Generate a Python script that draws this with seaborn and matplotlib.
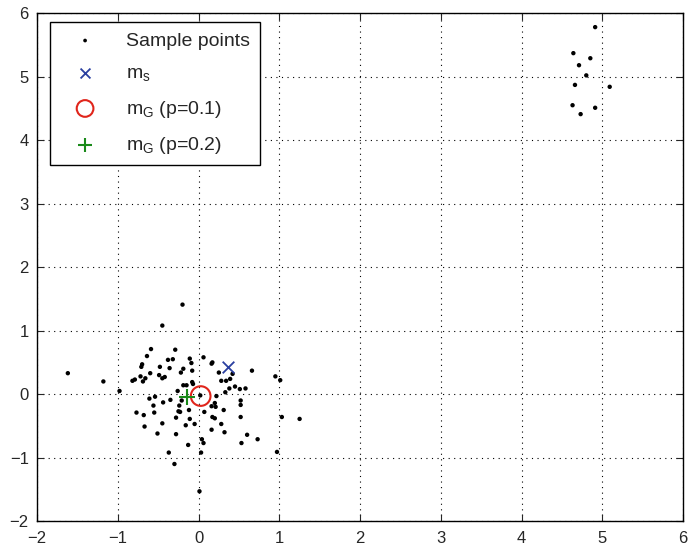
import numpy as np
import pandas as pd
import matplotlib
matplotlib.use("Agg")
import matplotlib.pyplot as plt
import seaborn as sns

# sample points
cluster_x = [-0.20, -0.45, -0.59, -0.29, -0.64, -0.38, -0.32, 0.06, -0.11, -0.09,
             0.16, 0.17, -0.70, -0.71, -0.48, -0.36, -0.19, -0.08, 0.25, 0.42,
             0.66, -0.60, -0.49, -0.42, -0.45, -0.72, -0.66, -0.79, -0.82, -0.69,
             -1.62, -1.18, -0.22, -0.08, -0.07, -0.19, -0.15, 0.28, 0.34, 0.39,
             0.95, 1.01, 0.38, 0.45, 0.51, 0.58, -0.98, -0.26, 0.33, 0.02,
             0.22, -0.54, -0.61, -0.35, -0.21, 0.20, -0.44, 0.52, 0.52, -0.56,
             -0.24, 0.16, 0.21, -0.12, 0.31, -0.25, -0.23, -0.77, -0.55, 0.07,
             -0.68, -0.28, 0.17, 0.20, 0.52, 1.03, 1.25, -0.11, -0.45, -0.16,
             -0.05, 0.28, -0.67, 0.16, 0.32, -0.51, -0.28, 0.60, 0.73, 0.04,
             0.06, 0.53, -0.13, -0.37, 0.03, 0.97, -0.30, 0.01]
cluster_y = [1.41, 1.08, 0.71, 0.70, 0.60, 0.54, 0.55, 0.58, 0.56, 0.49,
             0.48, 0.50, 0.47, 0.43, 0.43, 0.41, 0.40, 0.37, 0.34, 0.32,
             0.37, 0.33, 0.30, 0.27, 0.25, 0.28, 0.25, 0.23, 0.21, 0.20,
             0.33, 0.20, 0.34, 0.19, 0.16, 0.14, 0.14, 0.21, 0.21, 0.24,
             0.28, 0.22, 0.09, 0.12, 0.08, 0.09, 0.05, 0.05, 0.03, -0.02,
             -0.03, -0.04, -0.07, -0.09, -0.10, -0.14, -0.13, -0.10, -0.17, -0.18,
             -0.18, -0.19, -0.20, -0.25, -0.25, -0.27, -0.28, -0.29, -0.29, -0.28,
             -0.33, -0.37, -0.36, -0.38, -0.36, -0.36, -0.39, -0.39, -0.46, -0.49,
             -0.47, -0.47, -0.51, -0.56, -0.60, -0.62, -0.63, -0.64, -0.71, -0.71,
             -0.77, -0.77, -0.80, -0.92, -0.92, -0.91, -1.10, -1.53]
outlier_x = [4.91, 4.64, 4.85, 4.71, 4.80, 4.66, 5.09, 4.63, 4.91, 4.73]
outlier_y = [5.78, 5.37, 5.29, 5.18, 5.02, 4.87, 4.84, 4.55, 4.51, 4.41]

# estimates
ms = (0.36, 0.43)
mg_01 = (0.025, -0.03)
mg_02 = (-0.14, -0.04)

df = pd.DataFrame({"x": cluster_x + outlier_x, "y": cluster_y + outlier_y})

sns.set_style("ticks")
plt.rcParams["font.family"] = ["Liberation Sans", "DejaVu Sans"]
plt.rcParams["mathtext.default"] = "regular"
plt.rcParams["xtick.direction"] = "in"
plt.rcParams["ytick.direction"] = "in"

fig = plt.figure(figsize=(6.88, 5.48), dpi=100)
ax = fig.add_axes([0.054, 0.049, 0.939, 0.927])

sns.scatterplot(data=df, x="x", y="y", ax=ax, color="black", s=10,
                edgecolor="none", label="Sample points", zorder=3)
sns.scatterplot(x=[ms[0]], y=[ms[1]], ax=ax, marker="x", color="#2a3fa0",
                s=70, linewidth=1.3, label="$m_s$", zorder=4)
sns.scatterplot(x=[mg_01[0]], y=[mg_01[1]], ax=ax, marker="o", facecolor="none",
                edgecolor="#e0251b", s=200, linewidth=1.5,
                label="$m_G$ (p=0.1)", zorder=4)
sns.scatterplot(x=[mg_02[0]], y=[mg_02[1]], ax=ax, marker="+", color="#1a8a1a",
                s=140, linewidth=1.5, label="$m_G$ (p=0.2)", zorder=4)

ax.set_xlim(-2, 6)
ax.set_ylim(-2, 6)
ax.set_xticks(range(-2, 7))
ax.set_yticks(range(-2, 7))
ax.set_xlabel("")
ax.set_ylabel("")
ax.grid(True, linestyle=(0, (1, 4)), color="black", linewidth=0.8)
ax.tick_params(top=True, right=True, labelsize=12, length=5, width=0.8)
ax.tick_params(axis="x", pad=7)
ax.tick_params(axis="y", pad=6)
for s in ax.spines.values():
    s.set_visible(True)
    s.set_linewidth(1.0)
    s.set_color("black")

leg = ax.legend(loc="upper left", bbox_to_anchor=(0.02, 0.982), borderaxespad=0,
                fontsize=14, frameon=True, fancybox=False,
                edgecolor="black", framealpha=1, borderpad=0.5,
                handlelength=2.6, handletextpad=0.8, labelspacing=0.78,
                markerscale=0.85)
leg.get_frame().set_linewidth(1.0)

fig.savefig("out.png", dpi=100)
